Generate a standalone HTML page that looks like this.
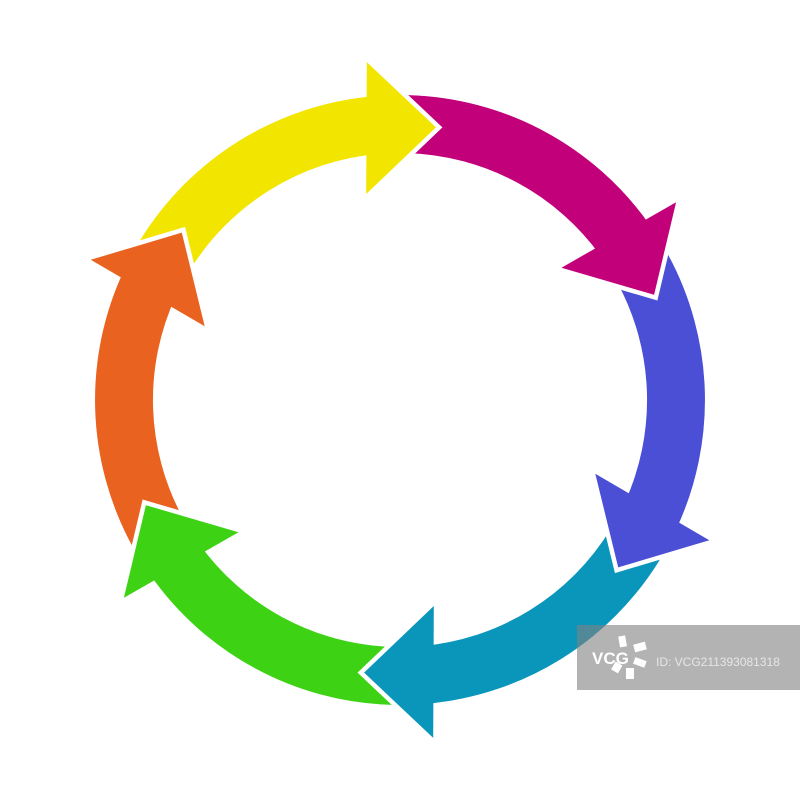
<!DOCTYPE html>
<html><head><meta charset="utf-8">
<style>
html,body{margin:0;padding:0;background:#fff;width:800px;height:800px;overflow:hidden}
svg{display:block}
</style></head>
<body>
<svg id="s" width="800" height="800" viewBox="0 0 800 800" xmlns="http://www.w3.org/2000/svg">
<g id="bodies"></g><g id="heads"></g>
<rect x="577" y="625" width="223" height="65" fill="rgb(128,128,128)" fill-opacity="0.6"/>
<text x="592" y="664" font-family="Liberation Sans, sans-serif" font-weight="bold" font-size="17" fill="#fff">VCG</text>
<g fill="#fff">
<rect x="619" y="636" width="7" height="11" transform="rotate(-10 622 641)"/>
<rect x="634" y="643" width="12" height="8" transform="rotate(-15 640 647)"/>
<rect x="634" y="659" width="12" height="7" transform="rotate(20 640 662)"/>
<rect x="626" y="668" width="8" height="11"/>
<rect x="613" y="663" width="8" height="9" transform="rotate(30 617 667)"/>
</g>
<text x="656" y="666" font-family="Liberation Sans, sans-serif" font-size="12" fill="#e6e6e6">ID: VCG211393081318</text>
</svg>
<script>
(function(){
var cx=400,cy=400,ri=247,ro=305,rm=275,hl=14.5;
function P(t,r){var a=t*Math.PI/180;return [cx+r*Math.sin(a),cy-r*Math.cos(a)];}
function F(p){return p[0].toFixed(1)+','+p[1].toFixed(1);}
var cols=['#f2e500','#c2007a','#4b4fd6','#0a96bb','#3dd314','#e96220'];
var B='',H='';
for(var k=0;k<6;k++){
 var tip=7.5+60*k, st=tip-60-6, hb=tip-hl, be=hb+2;
 var a=P(st,ro),b=P(be,ro),c=P(be,ri),d=P(st,ri);
 B+='<path fill="'+cols[k]+'" d="M'+F(a)+' A'+ro+' '+ro+' 0 0 1 '+F(b)+' L'+F(c)+' A'+ri+' '+ri+' 0 0 0 '+F(d)+' Z"/>';
 var tp=P(tip,rm), bc=P(hb,rm);
 var ux=tp[0]-bc[0],uy=tp[1]-bc[1],L=Math.sqrt(ux*ux+uy*uy);ux/=L;uy/=L;
 // outward normal (away from center)
 var nx=-uy,ny=ux;
 var ox=bc[0]-cx,oy=bc[1]-cy; if(nx*ox+ny*oy<0){nx=-nx;ny=-ny;}
 var w1=[bc[0]+nx*65,bc[1]+ny*65], w2=[bc[0]-nx*67,bc[1]-ny*67];
 H+='<polyline fill="none" stroke="#fff" stroke-width="9" stroke-linejoin="miter" points="'+F(w1)+' '+F(tp)+' '+F(w2)+'"/>';
 H+='<polygon fill="'+cols[k]+'" points="'+F(w1)+' '+F(tp)+' '+F(w2)+'"/>';
}
document.getElementById('bodies').innerHTML=B;
document.getElementById('heads').innerHTML=H;
})();
</script>
</body></html>
